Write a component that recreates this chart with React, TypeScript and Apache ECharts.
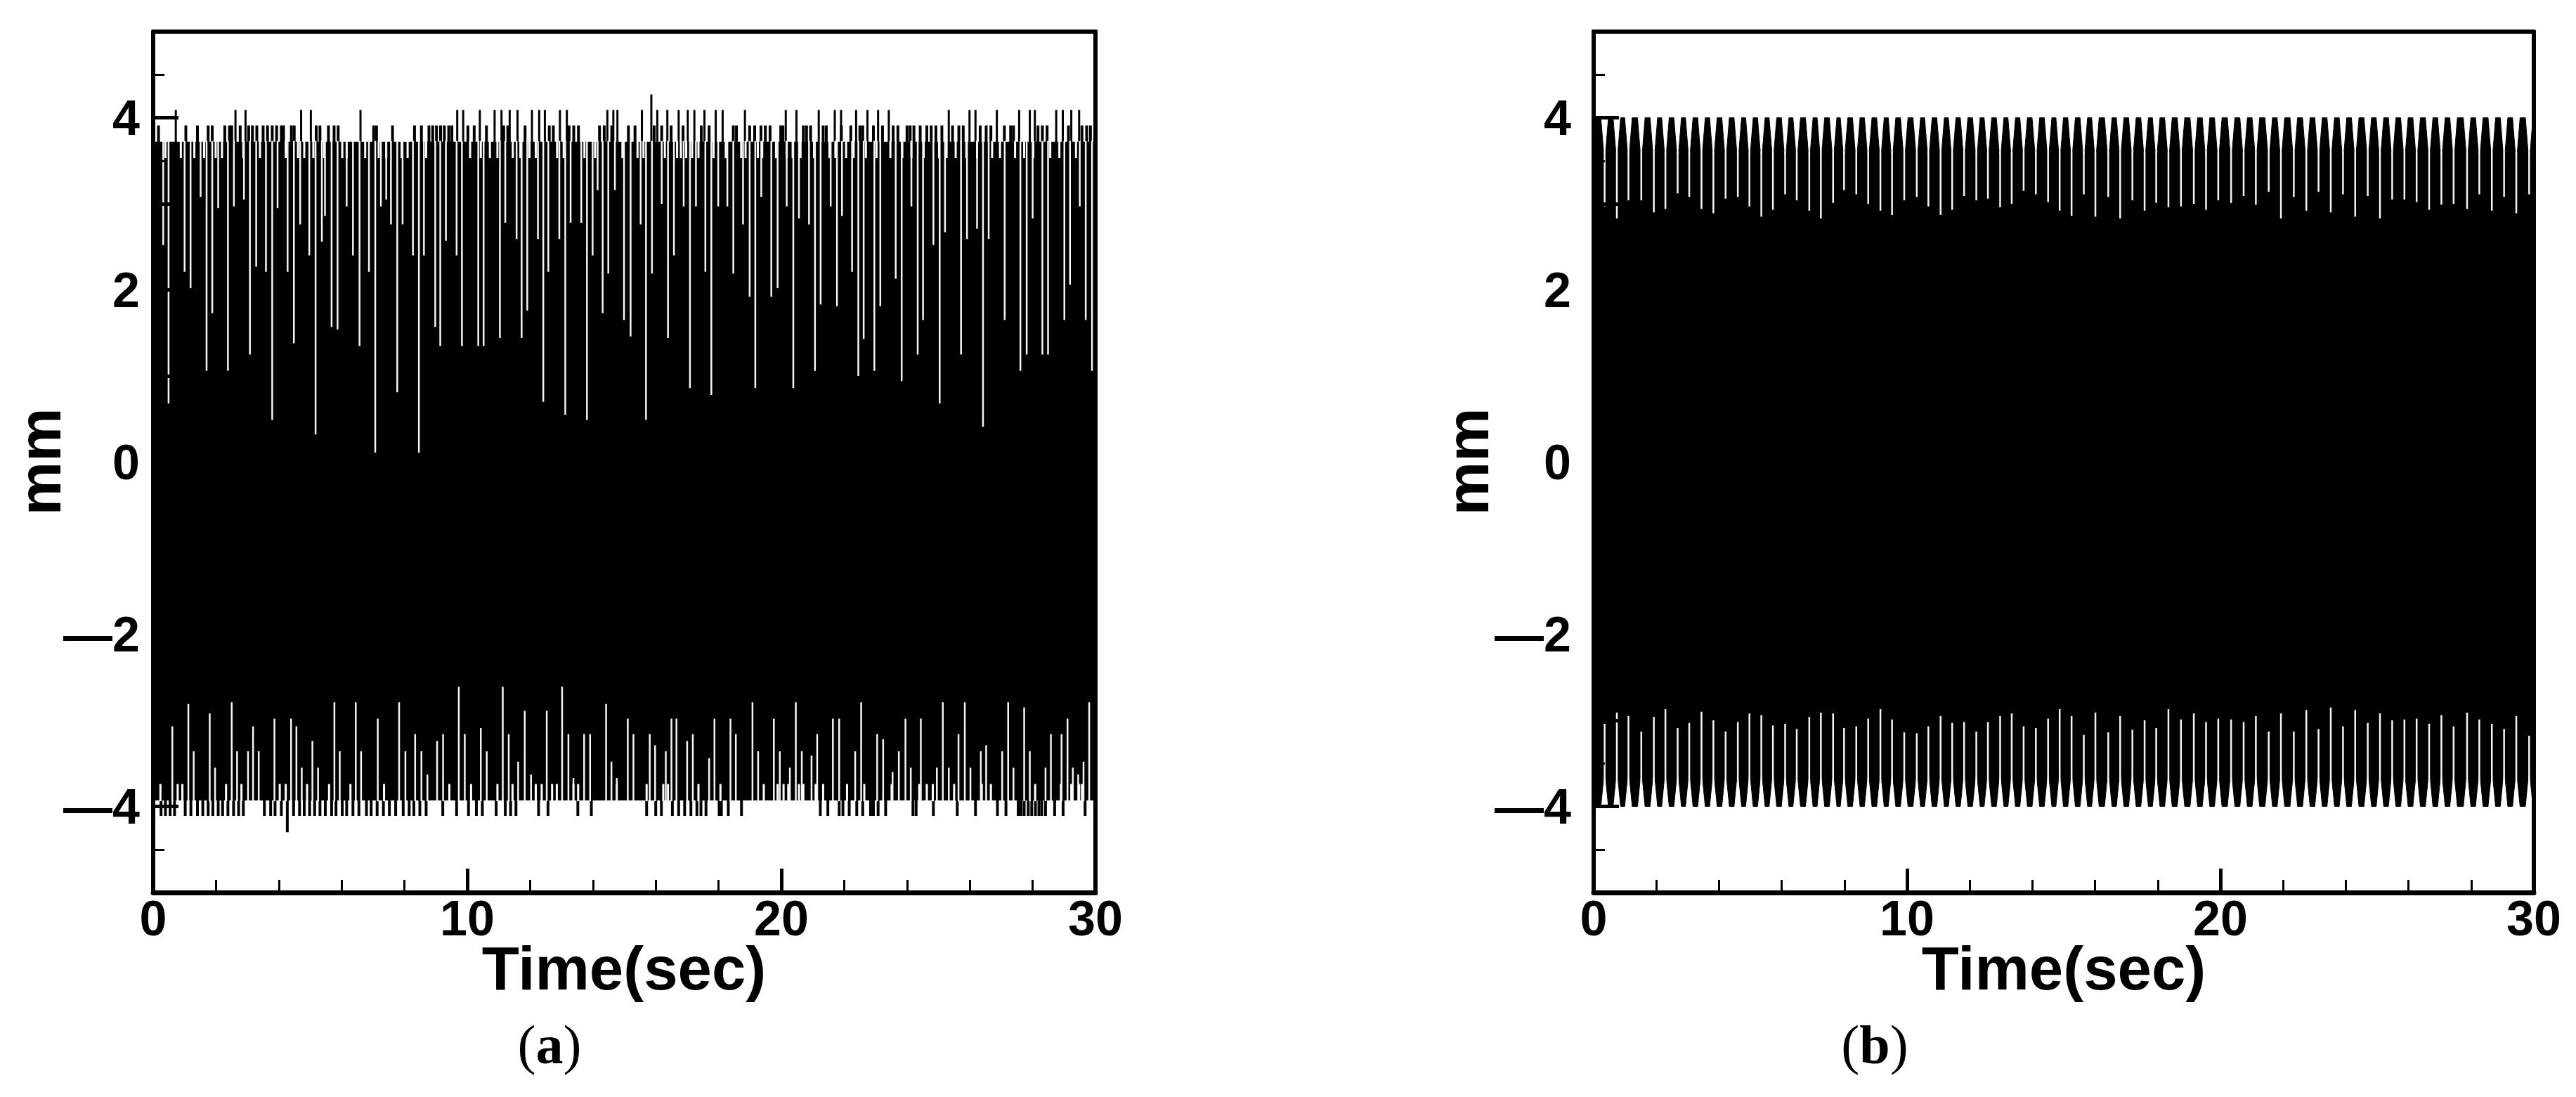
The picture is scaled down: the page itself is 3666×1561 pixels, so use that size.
import React, { useEffect, useRef } from 'react';
import * as echarts from 'echarts';

// ---------- axes ----------
const TIME_MIN = 0;
const TIME_MAX = 30;
const MM_MIN = -5;
const MM_MAX = 5;
const yLabelValues = [-4, -2, 0, 2, 4];

// ---------- panel (a) ----------
const aBandTop = 3.72;
const aBandBottom = -3.93;
const aTopShortGapDepth = 3.53;
const aBottomShortGapHeight = -3.74;
const aTopMidPeakLevel = 3.91;

const aTopTallPeaks: [number, number][] = [
  [0.72, 4.09], [2.62, 4.09], [2.94, 4.09], [4.71, 4.09], [5.02, 4.09], [6.6, 4.09], [9.68, 4.09], [9.87, 4.09],
  [10.4, 4.09], [10.87, 4.09], [11.09, 4.09], [11.35, 4.09], [11.6, 4.09], [12.06, 4.09], [12.29, 4.09], [12.47, 4.09],
  [12.95, 4.09], [13.17, 4.09], [14.46, 4.09], [14.65, 4.09], [14.78, 4.09], [15.56, 4.09], [15.86, 4.27], [16.05, 4.09],
  [16.37, 4.09], [16.73, 4.09], [17.02, 4.09], [17.23, 4.09], [17.55, 4.09], [17.91, 4.09], [18.13, 4.09], [18.84, 4.09],
  [20.14, 4.09], [20.48, 4.09], [21.19, 4.09], [21.7, 4.09], [21.9, 4.09], [22.38, 4.09], [22.74, 4.09], [23.08, 4.09],
  [23.42, 4.09], [25.33, 4.09], [25.99, 4.09], [26.18, 4.09], [26.86, 4.09], [27.57, 4.09], [27.91, 4.09], [28.07, 4.09],
  [28.75, 4.09], [28.96, 4.09], [29.23, 4.09], [29.48, 4.09],
];

const aTopMidPeakTimes = [
  0.17, 1.04, 1.41, 1.75, 1.88, 2.28, 2.43, 2.5, 2.77, 3.04, 3.16, 3.3, 3.5, 3.64, 3.79, 3.93, 4.08, 4.15, 4.4, 4.49,
  5.19, 5.31, 5.58, 5.76, 5.89, 7.02, 7.11, 7.62, 8.32, 8.54, 8.78, 8.9, 9.02, 9.15, 9.27, 9.41, 9.51, 10.02, 10.22,
  10.61, 11.16, 11.29, 11.84, 12.61, 12.74, 13.24, 13.39, 13.54, 14.21, 14.36, 14.6,
  15.13, 15.34, 15.95, 16.19, 16.49, 16.87, 17.45, 17.7, 18.47, 18.57, 18.99, 19.15, 19.35, 19.49, 19.64, 19.98, 20.05,
  20.7, 20.8, 20.93, 21.33, 21.43, 21.91, 22.21, 22.5, 22.59, 22.93, 23.22, 23.56, 23.71, 24.0, 24.1, 24.22, 24.42,
  24.63, 24.77, 24.92, 25.11, 25.45, 25.65, 25.79, 26.33, 26.52, 26.67, 27.1, 27.3, 27.39, 28.17, 28.31, 28.46, 29.14,
  29.57, 29.72, 29.84,
];

const aTopShortGapTimes = [
  0.39, 0.88, 1.31, 1.62, 1.99, 2.19, 2.87, 3.4, 4.22, 4.61, 4.81, 5.1, 5.44, 6.02, 6.16, 6.75, 7.18, 7.42, 7.91, 8.1,
  8.69, 10.09, 10.43, 10.72, 10.96, 11.45, 11.69, 11.98, 12.18, 12.86, 13.07, 13.73, 14.07, 14.94,
  15.42, 15.61, 16.29, 16.68, 16.8, 16.97, 17.16, 17.36, 17.84, 18.23, 18.72, 18.86, 19.25, 19.39, 19.83, 20.17, 20.36,
  20.61, 21.04, 21.53, 21.72, 22.06, 22.3, 22.69, 23.03, 23.47, 23.85, 24.14, 24.53, 25.02, 25.26, 25.55, 25.89, 26.23,
  26.71, 26.96, 27.44, 27.73, 28.02, 28.56, 28.85, 29.38,
];

const aTopSpikes: [number, number][] = [
  [0.32, 2.52], [0.49, 0.68], [1.0, 2.21], [1.19, 2.02], [1.51, 3.08], [1.7, 1.06], [1.88, 1.73], [2.07, 2.95],
  [2.38, 1.06], [2.57, 2.97], [2.89, 3.05], [3.08, 1.25], [3.28, 2.27], [3.59, 2.21], [3.79, 0.49], [3.96, 2.95],
  [4.28, 2.21], [4.48, 1.38], [4.68, 2.76], [4.97, 2.4], [5.17, 0.32], [5.37, 2.56], [5.47, 2.86], [5.68, 1.57],
  [5.87, 1.54], [6.16, 2.97], [6.36, 2.4], [6.57, 1.35], [6.87, 2.21], [7.07, 0.11], [7.25, 2.97], [7.42, 3.05],
  [7.57, 2.76], [7.77, 0.81], [7.94, 2.76], [8.27, 2.4], [8.46, 0.11], [8.62, 2.4], [8.98, 1.57], [9.14, 1.35],
  [9.32, 2.57], [9.66, 2.4], [9.83, 1.35], [10.35, 1.35], [10.52, 1.35], [11.04, 1.44], [11.21, 2.78], [11.57, 2.59],
  [11.73, 1.44], [11.91, 1.76], [12.25, 2.59], [12.42, 0.7], [12.58, 2.21], [12.93, 2.59], [13.12, 0.55], [13.29, 2.78],
  [13.63, 2.78], [13.81, 0.49], [13.99, 2.4], [14.15, 3.16], [14.31, 1.73], [14.49, 2.19], [14.7, 3.16], [14.99, 1.65],
  [15.2, 1.46], [15.52, 2.76], [15.69, 0.49], [15.88, 2.19], [16.19, 3.0], [16.39, 1.44], [16.58, 2.4], [16.89, 2.97],
  [17.09, 0.86], [17.28, 2.97], [17.58, 2.21], [17.77, 0.78], [17.99, 2.97], [18.28, 2.97], [18.47, 2.19], [18.78, 2.76],
  [18.99, 1.92], [19.17, 0.86], [19.36, 3.08], [19.68, 1.92], [19.88, 2.02], [20.17, 2.97], [20.38, 0.86], [20.56, 2.83],
  [20.88, 2.76], [21.07, 1.06], [21.25, 1.83], [21.57, 2.97], [21.77, 1.81], [21.93, 2.86], [22.25, 2.21], [22.45, 1.0],
  [22.62, 1.43], [22.96, 1.06], [23.15, 1.81], [23.64, 2.13], [23.83, 0.94], [24.14, 2.97], [24.34, 1.25], [24.51, 1.65],
  [24.84, 2.52], [25.04, 0.68], [25.21, 2.67], [25.72, 1.25], [25.91, 2.59], [26.23, 2.71], [26.42, 0.41], [26.6, 2.59],
  [27.11, 1.65], [27.61, 1.06], [27.81, 1.25], [28.0, 2.83], [28.31, 1.25], [28.49, 1.25], [29.01, 1.65], [29.19, 2.06],
  [29.5, 2.97], [29.69, 1.65], [29.89, 1.06],
];

const aBottomPeaks: [number, number][] = [
  [0.25, -4.11], [0.39, -4.11], [0.54, -4.11], [0.68, -4.11], [1.02, -4.11], [1.2, -4.11], [1.41, -4.11], [1.58, -4.11],
  [1.75, -4.11], [1.9, -4.11], [2.07, -4.11], [2.21, -4.11], [2.38, -4.11], [2.56, -4.11], [2.72, -4.11], [2.87, -4.11],
  [3.54, -4.11], [3.74, -4.11], [3.88, -4.11], [4.08, -4.11], [4.27, -4.3], [4.47, -4.11], [4.66, -4.11], [4.81, -4.11],
  [4.98, -4.11], [5.14, -4.11], [5.31, -4.11], [5.48, -4.11], [5.68, -4.11], [5.82, -4.11], [6.02, -4.11], [6.16, -4.11],
  [6.36, -4.11], [6.55, -4.11], [6.79, -4.11], [6.94, -4.11], [7.13, -4.11], [7.33, -4.11], [7.52, -4.11], [7.72, -4.11],
  [7.96, -4.11], [8.15, -4.11], [8.3, -4.11], [8.49, -4.11], [8.69, -4.11], [9.22, -4.11], [9.66, -4.11], [10.04, -4.11],
  [10.29, -4.11], [10.48, -4.11], [10.92, -4.11], [11.21, -4.11], [11.38, -4.11], [11.55, -4.11], [12.27, -4.11],
  [12.57, -4.11], [13.52, -4.11], [13.95, -4.11], [15.71, -4.11], [16.0, -4.11], [16.18, -4.11], [16.53, -4.11],
  [16.73, -4.11], [16.92, -4.11], [17.12, -4.11], [17.31, -4.11], [17.44, -4.11], [17.6, -4.11], [18.02, -4.11],
  [18.09, -4.11], [18.31, -4.11], [18.73, -4.11], [21.24, -4.11], [21.48, -4.11], [21.84, -4.11], [21.96, -4.11],
  [22.16, -4.11], [22.4, -4.11], [22.59, -4.11], [22.84, -4.11], [22.93, -4.11], [23.08, -4.11], [23.32, -4.11],
  [24.19, -4.11], [24.29, -4.11], [24.84, -4.11], [25.6, -4.11], [26.18, -4.11], [26.88, -4.11], [27.15, -4.11],
  [27.54, -4.11], [27.63, -4.11], [27.73, -4.11], [27.86, -4.11], [27.97, -4.11], [28.09, -4.11], [28.2, -4.11],
  [28.29, -4.11], [28.41, -4.11], [28.7, -4.11], [28.97, -4.11], [29.67, -4.11],
];

const aBottomShortGapTimes = [
  0.23, 0.78, 0.93, 2.32, 2.81, 4.03, 4.22, 4.9, 5.6, 6.28, 7.35, 9.43, 10.12, 10.96, 11.44, 12.18, 12.37, 12.7, 12.85,
  13.38, 13.53, 14.76, 15.71, 16.24, 16.39, 17.36, 18.06, 19.44, 19.88, 20.07, 20.22, 20.56, 20.7, 21.09, 21.33, 22.09,
  22.64, 23.51, 24.39, 24.63, 24.82, 25.5, 26.38, 26.67, 28.08, 28.9, 29.23, 29.48, 29.57,
];

const aBottomSpikes: [number, number][] = [
  [0.61, -3.07], [1.12, -2.81], [1.29, -3.36], [1.8, -2.92], [1.97, -3.55], [2.5, -2.79], [2.67, -3.36], [3.02, -3.36],
  [3.18, -3.07], [3.36, -3.36], [3.86, -2.98], [4.39, -2.98], [4.56, -3.07], [4.73, -3.55], [5.07, -3.24], [5.25, -3.55],
  [5.77, -2.79], [5.94, -3.36], [6.45, -2.79], [6.62, -3.36], [7.15, -2.98], [7.83, -2.79], [8.03, -3.36], [8.34, -3.16],
  [8.54, -3.36], [8.73, -3.63], [9.04, -3.24], [9.23, -3.16], [9.73, -2.61], [9.92, -3.16], [10.43, -3.09], [10.62, -3.36],
  [11.13, -2.61], [11.32, -3.16], [11.62, -3.48], [11.83, -2.89], [12.03, -3.63], [12.53, -2.89], [13.02, -2.61],
  [13.22, -3.16], [13.38, -3.67], [13.72, -3.16], [13.91, -3.16], [14.42, -2.81], [14.59, -3.48], [14.76, -3.67],
  [15.11, -2.98], [15.29, -3.16], [15.81, -3.16], [15.98, -3.29], [16.32, -3.36], [16.5, -2.98], [16.66, -2.98],
  [17.0, -3.24], [17.18, -3.16], [17.7, -3.44], [17.87, -2.98], [18.38, -2.98], [18.55, -3.16], [19.08, -2.79],
  [19.26, -3.36], [19.76, -2.98], [19.95, -3.36], [20.27, -3.55], [20.46, -2.79], [20.65, -3.36], [20.96, -3.41],
  [21.14, -3.16], [21.64, -2.98], [21.84, -2.98], [22.35, -3.36], [22.54, -2.79], [23.05, -3.16], [23.24, -3.22],
  [23.54, -3.6], [23.74, -3.36], [23.95, -2.98], [24.12, -3.55], [24.44, -2.98], [24.95, -3.55], [25.14, -2.79],
  [25.33, -3.55], [25.64, -3.16], [25.84, -2.79], [26.02, -3.55], [26.35, -3.36], [26.52, -3.29], [27.03, -3.36],
  [27.22, -2.79], [27.39, -3.55], [27.73, -2.85], [27.91, -3.36], [28.41, -3.55], [28.58, -3.16], [28.92, -3.16],
  [29.11, -2.98], [29.28, -3.55], [29.45, -3.63], [29.62, -3.48], [29.8, -2.79],
];

// ---------- panel (b) ----------
const bPeakTop = 4.0;
const bPeakBottom = -4.0;
const bTopShoulder = 3.45;
const bBottomShoulder = -3.55;

const bCuspTimes = [
  0.35, 0.74, 1.11, 1.52, 1.92, 2.29, 2.68, 3.05, 3.44, 3.82, 4.21, 4.6, 4.97, 5.35, 5.72, 6.11, 6.48, 6.88, 7.25, 7.64,
  7.99, 8.38, 8.76, 9.15, 9.52, 9.91, 10.31, 10.68, 11.07, 11.44, 11.82, 12.21, 12.58, 12.97, 13.34, 13.72, 14.11, 14.5,
  14.87, 15.25, 15.64, 16.01, 16.42, 16.8, 17.19, 17.58, 17.95, 18.34, 18.74, 19.15, 19.54, 19.93, 20.34, 20.74, 21.13,
  21.54, 21.93, 22.34, 22.74, 23.13, 23.52, 23.91, 24.3, 24.7, 25.09, 25.48, 25.87, 26.26, 26.66, 27.05, 27.44, 27.87,
  28.26, 28.66, 29.05, 29.44, 29.85,
];

const bTopCuspDepths = [
  2.97, 2.83, 3.04, 3.04, 2.9, 2.94, 3.12, 3.08, 2.94, 2.89, 3.06, 3.08, 2.97, 2.85, 2.93, 3.11, 3.04, 2.92, 2.83, 3.01,
  3.16, 3.11, 3.0, 2.92, 2.87, 3.04, 3.08, 2.97, 2.87, 2.93, 3.09, 3.04, 3.06, 2.96, 3.0, 3.15, 3.11, 3.02, 2.92,
  2.86, 3.11, 2.85, 3.08, 2.83, 3.04, 2.92, 3.01, 2.96, 2.97, 3.0, 2.93, 3.04, 3.01, 3.09, 2.99, 3.14, 2.83, 3.08, 2.92,
  3.14, 2.9, 3.11, 2.85, 3.09, 2.83, 3.05, 3.05, 3.02, 2.93, 2.99, 3.0, 2.94, 3.11, 2.92, 3.08, 2.89, 3.11,
];

const bBottomCuspHeights = [
  -3.04, -2.91, -2.95, -3.13, -2.96, -2.87, -3.09, -3.03, -2.9, -3.0, -3.13, -3.02, -2.92, -2.94, -3.06, -3.04, -3.1,
  -2.96, -2.91, -2.92, -3.09, -3.07, -2.98, -2.87, -2.99, -3.14, -3.15, -3.07, -2.95, -3.03, -3.02, -3.13, -3.02, -2.95,
  -2.92, -3.07, -3.09, -2.98, -2.87, -2.95, -3.17, -2.91, -3.14, -2.95, -3.11, -3.0, -3.09, -2.87, -2.99, -2.92, -3.02,
  -2.98, -2.99, -3.02, -2.95, -3.13, -2.92, -3.13, -2.88, -3.1, -2.85, -3.07, -2.88, -3.03, -2.92, -3.0, -2.99, -2.98,
  -3.04, -2.94, -3.07, -2.91, -2.99, -3.04, -3.1, -2.95, -3.18,
];

// ---------- styling ----------
const SANS = "'Liberation Sans', Arial, sans-serif";
const SERIF = "'Liberation Serif', 'Times New Roman', serif";
const V_HALF = 0.12; // half width of the notch between teeth (time units)
const SPIKE_OVERLAP = 0.16; // how far into the notch the thin spike begins (value units)

const vbar = (color: string, w: number) => (_p: any, api: any) => {
  const t = api.value(0);
  const a = api.coord([t, api.value(1)]);
  const b = api.coord([t, api.value(2)]);
  return {
    type: 'rect',
    shape: { x: a[0] - w / 2, y: Math.min(a[1], b[1]), width: w, height: Math.abs(b[1] - a[1]) },
    style: { fill: color },
  };
};

const bandRender = (_p: any, api: any) => {
  const a = api.coord([api.value(0), api.value(3)]);
  const b = api.coord([api.value(1), api.value(2)]);
  return {
    type: 'rect',
    shape: { x: a[0], y: a[1], width: b[0] - a[0], height: b[1] - a[1] },
    style: { fill: '#000' },
  };
};

const barSeries = (ai: number, data: number[][], color: string, w: number, z: number) => ({
  type: 'custom',
  xAxisIndex: ai,
  yAxisIndex: ai,
  silent: true,
  z,
  encode: { x: 0, y: [1, 2] },
  renderItem: vbar(color, w),
  data,
});

const bandSeries = (ai: number, lo: number, hi: number) => ({
  type: 'custom',
  xAxisIndex: ai,
  yAxisIndex: ai,
  silent: true,
  z: 1,
  encode: { x: [0, 1], y: [2, 3] },
  renderItem: bandRender,
  data: [[TIME_MIN, TIME_MAX, lo, hi]],
});

const yLabelFmt = (v: number) => {
  const r = Math.round(v * 100) / 100;
  if (!yLabelValues.includes(r)) return '';
  return r < 0 ? '\u2014' + Math.abs(r) : String(r);
};

const mainX = (gi: number) => ({
  type: 'value',
  gridIndex: gi,
  min: TIME_MIN,
  max: TIME_MAX,
  interval: 10,
  position: 'bottom',
  z: 10,
  axisLine: { show: true, onZero: false, lineStyle: { color: '#000', width: 7 } },
  axisTick: { show: true, inside: true, length: 34, lineStyle: { color: '#000', width: 5 } },
  minorTick: { show: true, splitNumber: 5, length: 18, lineStyle: { color: '#000', width: 3 } },
  axisLabel: {
    show: true, margin: 37, verticalAlign: 'middle', fontSize: 70, fontWeight: 'bold',
    fontFamily: SANS, color: '#000',
  },
  splitLine: { show: false },
  minorSplitLine: { show: false },
});

const decoX = (gi: number) => ({
  type: 'value', gridIndex: gi, min: TIME_MIN, max: TIME_MAX, position: 'top', z: 10,
  axisLine: { show: true, onZero: false, lineStyle: { color: '#000', width: 6 } },
  axisTick: { show: false }, axisLabel: { show: false }, splitLine: { show: false },
});

const mainY = (gi: number, margin: number) => ({
  type: 'value',
  gridIndex: gi,
  min: MM_MIN,
  max: MM_MAX,
  interval: 1,
  position: 'left',
  z: 10,
  axisLine: { show: true, onZero: false, lineStyle: { color: '#000', width: 6 } },
  axisTick: { show: true, inside: true, length: 36, lineStyle: { color: '#000', width: 5 } },
  minorTick: { show: true, splitNumber: 2, length: 16, lineStyle: { color: '#000', width: 3 } },
  axisLabel: {
    show: true, margin, fontSize: 70, fontWeight: 'bold', fontFamily: SANS, color: '#000',
    formatter: yLabelFmt,
  },
  splitLine: { show: false },
  minorSplitLine: { show: false },
});

const decoY = (gi: number) => ({
  type: 'value', gridIndex: gi, min: MM_MIN, max: MM_MAX, position: 'right', z: 10,
  axisLine: { show: true, onZero: false, lineStyle: { color: '#000', width: 6 } },
  axisTick: { show: false }, axisLabel: { show: false }, splitLine: { show: false },
});

function buildOption() {
  // panel (a) series (axis index 0)
  const aSeries = [
    bandSeries(0, aBandBottom, aBandTop),
    barSeries(0, aTopMidPeakTimes.map((t) => [t, aBandTop - 0.02, aTopMidPeakLevel]), '#000', 4, 3),
    barSeries(0, aTopTallPeaks.map(([t, v]) => [t, aBandTop - 0.02, v]), '#000', 3, 3),
    barSeries(0, aBottomPeaks.map(([t, v]) => [t, aBandBottom + 0.02, v]), '#000', 4, 3),
    barSeries(0, aTopShortGapTimes.map((t) => [t, aBandTop + 0.01, aTopShortGapDepth]), '#fff', 3, 4),
    barSeries(0, aBottomShortGapTimes.map((t) => [t, aBandBottom - 0.01, aBottomShortGapHeight]), '#fff', 3, 4),
    barSeries(0, aTopSpikes.map(([t, v]) => [t, aBandTop + 0.01, v]), '#f4f4f4', 2.5, 5),
    barSeries(0, aBottomSpikes.map(([t, v]) => [t, aBandBottom - 0.01, v]), '#f4f4f4', 2.5, 5),
  ];

  // panel (b) envelopes (axis index 2)
  const upper: number[][] = [[TIME_MIN, bPeakTop]];
  const lower: number[][] = [[TIME_MIN, bPeakBottom]];
  bCuspTimes.forEach((t) => {
    upper.push([t - V_HALF, bPeakTop], [t, bTopShoulder], [t + V_HALF, bPeakTop]);
    lower.push([t - V_HALF, bPeakBottom], [t, bBottomShoulder], [t + V_HALF, bPeakBottom]);
  });
  upper.push([TIME_MAX, bPeakTop]);
  lower.push([TIME_MAX, bPeakBottom]);

  const envSeries = (data: number[][]) => ({
    type: 'line',
    xAxisIndex: 2,
    yAxisIndex: 2,
    silent: true,
    z: 2,
    symbol: 'none',
    smooth: false,
    data,
    lineStyle: { color: '#000', width: 1 },
    areaStyle: { color: '#000', opacity: 1 },
  });

  const bSeries = [
    bandSeries(2, -1.5, 1.5),
    envSeries(upper),
    envSeries(lower),
    barSeries(2, bCuspTimes.map((t, i) => [t, bTopShoulder + SPIKE_OVERLAP, bTopCuspDepths[i] ?? bTopShoulder]), '#f4f4f4', 2.5, 6),
    barSeries(2, bCuspTimes.map((t, i) => [t, bBottomShoulder - SPIKE_OVERLAP, bBottomCuspHeights[i] ?? bBottomShoulder]), '#f4f4f4', 2.5, 6),
  ];

  const caption = (x: number, letter: string) => ({
    type: 'text',
    x,
    y: 1486,
    style: {
      text: '{p|(}{b|' + letter + '}{p|)}',
      rich: {
        p: { fontFamily: SERIF, fontSize: 78, fontWeight: 'normal', fill: '#000' },
        b: { fontFamily: SERIF, fontSize: 78, fontWeight: 'bold', fill: '#000' },
      },
      align: 'center',
      verticalAlign: 'middle',
    },
  });

  const plainText = (x: number, y: number, text: string, size: number, rotation = 0) => ({
    type: 'text',
    x,
    y,
    rotation,
    style: {
      text,
      fontFamily: SANS,
      fontWeight: 'bold',
      fontSize: size,
      fill: '#000',
      align: 'center',
      verticalAlign: 'middle',
    },
  });

  return {
    animation: false,
    backgroundColor: '#ffffff',
    grid: [
      { left: 218, top: 45, width: 1341, height: 1225, containLabel: false },
      { left: 2268, top: 45, width: 1338, height: 1225, containLabel: false },
    ],
    xAxis: [mainX(0), decoX(0), mainX(1), decoX(1)],
    yAxis: [mainY(0, 19), decoY(0), mainY(1, 32), decoY(1)],
    series: [...aSeries, ...bSeries],
    graphic: [
      plainText(56, 657, 'mm', 86, Math.PI / 2),
      plainText(2088, 657, 'mm', 86, Math.PI / 2),
      plainText(888, 1377, 'Time(sec)', 87),
      plainText(2937, 1377, 'Time(sec)', 87),
      caption(782, 'a'),
      caption(2668, 'b'),
    ],
  };
}

export default function App() {
  const ref = useRef<HTMLDivElement>(null);
  useEffect(() => {
    document.body.style.margin = '0';
    if (!ref.current) return;
    const chart = echarts.init(ref.current, undefined, { renderer: 'svg' });
    chart.setOption(buildOption() as any);
    return () => {
      chart.dispose();
    };
  }, []);
  return <div ref={ref} style={{ width: 3666, height: 1561, background: '#fff' }} />;
}
